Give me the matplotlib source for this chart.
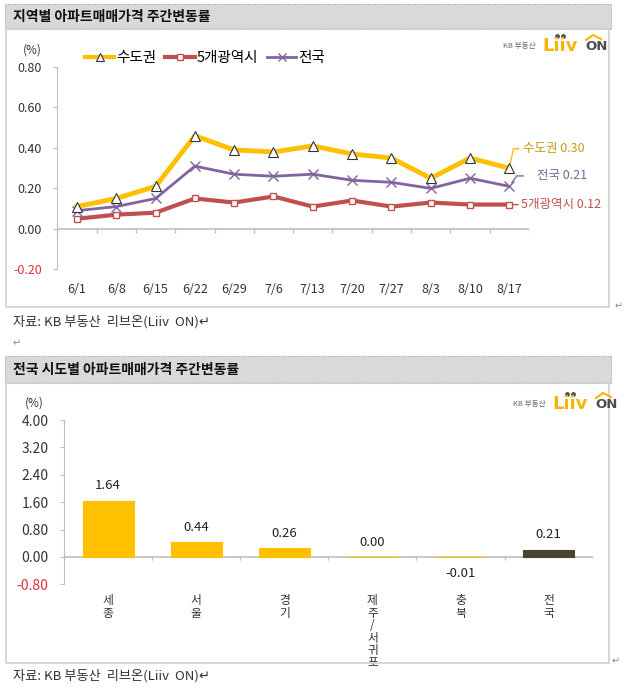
import matplotlib
matplotlib.use('Agg')
import matplotlib.pyplot as plt
from matplotlib.patches import Rectangle
from matplotlib.lines import Line2D
import numpy as np

plt.rcParams['font.family'] = ['Noto Sans CJK KR', 'DejaVu Sans']

# weekly change, top chart
weeks = ['6/1', '6/8', '6/15', '6/22', '6/29', '7/6', '7/13', '7/20', '7/27', '8/3', '8/10', '8/17']
metro = [0.11, 0.15, 0.21, 0.46, 0.39, 0.38, 0.41, 0.37, 0.35, 0.25, 0.35, 0.30]
five_cities = [0.05, 0.07, 0.08, 0.15, 0.13, 0.16, 0.11, 0.14, 0.11, 0.13, 0.12, 0.12]
nation = [0.09, 0.11, 0.15, 0.31, 0.27, 0.26, 0.27, 0.24, 0.23, 0.20, 0.25, 0.21]
line_names = ['수도권', '5개광역시', '전국']
line_ticks = [0.8, 0.6, 0.4, 0.2, 0.0, -0.2]

# regional change, bottom chart
regions = ['세종', '서울', '경기', '제주/서귀포', '충북', '전국']
region_vals = [1.64, 0.44, 0.26, 0.00, -0.01, 0.21]
bar_ticks = [4.0, 3.2, 2.4, 1.6, 0.8, 0.0, -0.8]

W, H = 628, 690
fig = plt.figure(figsize=(W / 100, H / 100), dpi=100)


def rect(x0, y0, x1, y1):
    return [x0 / W, 1 - y1 / H, (x1 - x0) / W, (y1 - y0) / H]


def ftext(x, y, s, **kw):
    fig.text(x / W, 1 - y / H, s, **kw)


def header(y0, y1, title):
    fig.add_artist(Rectangle((5 / W, 1 - y1 / H), 606 / W, (y1 - y0) / H,
                             transform=fig.transFigure, facecolor='#D9D9D9',
                             edgecolor='#A6A6A6', linestyle=(0, (1, 1)), lw=0.8))
    ftext(13, (y0 + y1) / 2, title, fontsize=10, fontweight='bold', va='center', color='#111111')


def box(y0, y1):
    fig.add_artist(Rectangle((6 / W, 1 - y1 / H), 603 / W, (y1 - y0) / H,
                             transform=fig.transFigure, facecolor='none',
                             edgecolor='#D0D0D0', lw=1.2))


def logo(x, y):
    ftext(x, y + 1, 'KB 부동산', fontsize=5.5, color='#666666', va='center')
    ftext(x + 39, y + 1, 'Liiv', fontsize=13, fontweight='bold', color='#F7B500', va='center',
          family='DejaVu Sans')
    fig.add_artist(Line2D([(x + 54) / W, (x + 60) / W], [1 - (y - 9) / H] * 2, ls='none',
                          marker='o', ms=2.5, color='#555555', transform=fig.transFigure))
    ftext(x + 82, y + 1, 'ON', fontsize=9.5, fontweight='bold', color='#4D4D4D', va='center',
          family='DejaVu Sans')
    fig.add_artist(Line2D([(x + 83) / W, (x + 90) / W, (x + 98) / W],
                          [1 - (y - 5) / H, 1 - (y - 10) / H, 1 - (y - 6) / H],
                          color='#F7B500', lw=1.5, transform=fig.transFigure))


def style_axis(ax, ticks, size):
    for s in ['top', 'right', 'bottom']:
        ax.spines[s].set_visible(False)
    ax.spines['left'].set_color('#BFBFBF')
    ax.set_yticks(ticks)
    ax.set_yticklabels(['%.2f' % t for t in ticks])
    ax.tick_params(axis='y', length=3, color='#BFBFBF', pad=8, labelsize=size, labelcolor='#333333')
    ax.get_yticklabels()[-1].set_color('#E0303A')
    ax.axhline(0, color='#BFBFBF', lw=1.2, zorder=1)


# ---------------- top: line chart ----------------
header(4, 29, '지역별 아파트매매가격 주간변동률')
box(29, 307)
logo(503, 45)

ax1 = fig.add_axes(rect(57.3, 67, 529, 269.3))
x = np.arange(len(weeks))
ax1.plot(x, metro, color='#FFC000', lw=3.5, marker='^', ms=7, mfc='white', mec='#333333', mew=0.8, zorder=4)
ax1.plot(x, five_cities, color='#C0504D', lw=3, marker='s', ms=5, mfc='white', mec='#C0504D', mew=1, zorder=3)
ax1.plot(x, nation, color='#8064A2', lw=2, marker='x', ms=7, mec='#8064A2', mew=1, zorder=3)
ax1.set_xlim(-0.5, len(weeks) - 0.5)
ax1.set_ylim(-0.2, 0.8)
style_axis(ax1, line_ticks, 9)
ax1.set_xticks(x)
ax1.set_xticklabels(weeks, fontsize=9, color='#333333')
ax1.tick_params(axis='x', length=0, pad=10)
ax1.vlines(np.arange(len(weeks) + 1) - 0.5, -0.02, 0, color='#BFBFBF', lw=1)
ftext(23, 50, '(%)', fontsize=8.5, color='#333333', va='center')

handles = [
    Line2D([], [], color='#FFC000', lw=3, marker='^', ms=6, mfc='white', mec='#333333', mew=0.8),
    Line2D([], [], color='#C0504D', lw=3, marker='s', ms=4.5, mfc='white', mec='#C0504D'),
    Line2D([], [], color='#8064A2', lw=2, marker='x', ms=6, mec='#8064A2'),
]
fig.legend(handles, line_names, loc='center left', bbox_to_anchor=(72 / W, 1 - 58 / H),
           ncol=3, frameon=False, fontsize=10.5, handlelength=2.0, handletextpad=0.15,
           columnspacing=0.6)

last = len(weeks) - 1
ax1.annotate('수도권 %.2f' % metro[-1], xy=(last, metro[-1]), xytext=(10, 14),
             textcoords='offset points', fontsize=9, color='#C89A0A', va='center',
             annotation_clip=False,
             arrowprops=dict(arrowstyle='-', color='#FFC000', lw=1, shrinkA=1, shrinkB=3,
                             connectionstyle='angle,angleA=0,angleB=78,rad=0'))
ax1.annotate('전국 %.2f' % nation[-1], xy=(last, nation[-1]), xytext=(20, 7.5),
             textcoords='offset points', fontsize=9, color='#7F63A0', va='center',
             annotation_clip=False,
             arrowprops=dict(arrowstyle='-', color='#8064A2', lw=1, shrinkA=8, shrinkB=3,
                             connectionstyle='angle,angleA=0,angleB=55,rad=0'))
ax1.annotate('5개광역시 %.2f' % five_cities[-1], xy=(last, five_cities[-1]), xytext=(8.5, 0),
             textcoords='offset points', fontsize=9, color='#C0504D', va='center',
             annotation_clip=False,
             arrowprops=dict(arrowstyle='-', color='#C0504D', lw=1, shrinkA=0, shrinkB=3))

ftext(615, 306, '↵', fontsize=7, color='#888888', va='center')
ftext(13, 322, '자료: KB 부동산  리브온(Liiv  ON)↵', fontsize=9.5, color='#333333', va='center')
ftext(13, 343, '↵', fontsize=7, color='#888888', va='center')

# ---------------- bottom: bar chart ----------------
header(356, 383, '전국 시도별 아파트매매가격 주간변동률')
box(383, 663)
logo(513, 403)

ax2 = fig.add_axes(rect(64, 420, 592.7, 584.3))
xb = np.arange(len(regions))
colors = ['#FFC000'] * (len(regions) - 1) + ['#4A4330']
ax2.bar(xb, region_vals, width=0.58, color=colors, edgecolor=colors, lw=0.8, zorder=3)
ax2.set_xlim(-0.5, len(regions) - 0.5)
ax2.set_ylim(-0.8, 4.0)
style_axis(ax2, bar_ticks, 10)
ax2.set_xticks(xb)
ax2.set_xticklabels(['\n'.join(r) for r in regions], fontsize=8.5, color='#333333', linespacing=0.95)
ax2.tick_params(axis='x', length=0, pad=7)
ax2.vlines(np.arange(len(regions) + 1) - 0.5, -0.08, 0, color='#BFBFBF', lw=1)
for xi, v in zip(xb, region_vals):
    if v >= 0:
        ax2.annotate('%.2f' % v, xy=(xi, v), xytext=(0, 6), textcoords='offset points',
                     ha='center', va='bottom', fontsize=9.5, color='#222222')
    else:
        ax2.annotate('%.2f' % v, xy=(xi, v), xytext=(0, -7), textcoords='offset points',
                     ha='center', va='top', fontsize=9.5, color='#222222')
ftext(25, 403, '(%)', fontsize=8.5, color='#333333', va='center')

ftext(612, 661, '↵', fontsize=7, color='#888888', va='center')
ftext(13, 676, '자료: KB 부동산  리브온(Liiv  ON)↵', fontsize=9.5, color='#333333', va='center')

fig.savefig('out.png', dpi=100, facecolor='white')
